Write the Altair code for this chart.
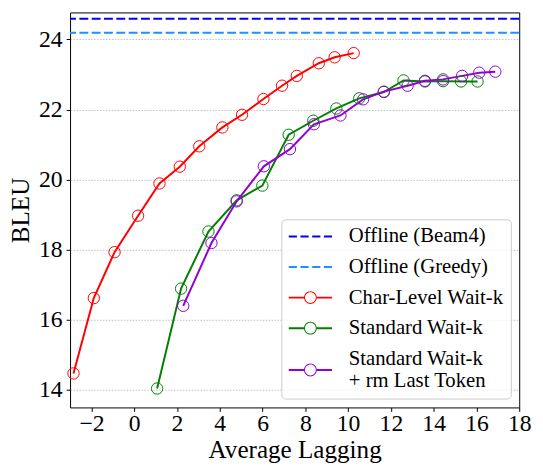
import altair as alt
import pandas as pd

# ---- data ----
series_names = [
    "Offline (Beam4)",
    "Offline (Greedy)",
    "Char-Level Wait-k",
    "Standard Wait-k",
    "Standard Wait-k + rm Last Token",
]
series_colors = ["#0000ff", "#1e90ff", "#ff0000", "#008000", "#9400d3"]

offline_bleu = [24.59, 24.19]

char_al = [-2.84, -1.89, -0.92, 0.18, 1.18, 2.13, 3.04, 4.12, 5.04, 6.04, 6.91, 7.60, 8.63, 9.37, 10.26]
char_bleu = [14.47, 16.62, 17.93, 18.97, 19.89, 20.37, 20.95, 21.49, 21.85, 22.30, 22.68, 22.96, 23.32, 23.49, 23.61]

std_al = [1.07, 2.19, 3.47, 4.79, 5.99, 7.22, 8.37, 9.45, 10.52, 11.67, 12.59, 13.59, 14.44, 15.28, 16.05]
std_bleu = [14.04, 16.89, 18.52, 19.41, 19.83, 21.28, 21.68, 22.03, 22.32, 22.50, 22.83, 22.80, 22.81, 22.80, 22.80]

rm_al = [2.29, 3.61, 4.79, 6.06, 7.28, 8.40, 9.64, 10.70, 11.67, 12.78, 13.59, 14.44, 15.33, 16.13, 16.88]
rm_bleu = [16.40, 18.19, 19.38, 20.38, 20.87, 21.58, 21.83, 22.29, 22.51, 22.68, 22.82, 22.86, 22.96, 23.05, 23.08]

x_ticks = [-2, 0, 2, 4, 6, 8, 10, 12, 14, 16, 18]
y_ticks = [14, 16, 18, 20, 22, 24]

# ---- tables ----
rows = []
for name, xs, ys in [
    (series_names[2], char_al, char_bleu),
    (series_names[3], std_al, std_bleu),
    (series_names[4], rm_al, rm_bleu),
]:
    for i, (a, b) in enumerate(zip(xs, ys)):
        rows.append({"series": name, "al": a, "bleu": b, "order": i})
curves = pd.DataFrame(rows)
offline = pd.DataFrame({"series": series_names[:2], "bleu": offline_bleu})
# one row per legend entry (placed off-plot and clipped; only feeds the legend)
legend_rows = pd.DataFrame({"series": series_names,
                            "al": [-100.0] * 5, "bleu": [0.0] * 5})

FONT = "Liberation Serif"

# legend symbols (unit coords, scaled by sqrt(size)/2 = 10 px per unit)
dash_path = ("M-1,-0.1H-0.17V0.1H-1Z M0.19,-0.1H1.02V0.1H0.19Z "
             "M1.38,-0.1H2.21V0.1H1.38Z M2.57,-0.1H3.4V0.1H2.57Z")


def ring_path(dy):
    a, b, c = dy - 0.1, dy + 0.1, dy
    return (f"M-1,{a}H0.55V{b}H-1Z M1.85,{a}H3.4V{b}H1.85Z "
            f"M1.85,{c}A0.65,0.65 0 1,1 0.55,{c}A0.65,0.65 0 1,1 1.85,{c}Z "
            f"M1.75,{c}A0.55,0.55 0 1,0 0.65,{c}A0.55,0.55 0 1,0 1.75,{c}Z")


color_scale = alt.Scale(domain=series_names, range=series_colors)
# same mapping, listed in another order so that it stays a separate (legend-less) scale
stroke_scale = alt.Scale(domain=series_names[::-1], range=series_colors[::-1])
shape_scale = alt.Scale(domain=series_names,
                        range=[dash_path, dash_path, ring_path(0), ring_path(0),
                               ring_path(1.15)])
x_scale = alt.Scale(domain=[-3, 18], nice=False, zero=False)
y_scale = alt.Scale(domain=[13.5, 24.77], nice=False, zero=False)

x_axis = alt.Axis(values=x_ticks, title="Average Lagging", grid=False, domain=False,
                  tickSize=4, labelPadding=0, titlePadding=3, labelFlush=False,
                  labelOverlap=False)
y_axis = alt.Axis(values=y_ticks, title="BLEU", grid=True, domain=False,
                  gridDash=[1.5, 1.5], gridColor="#b0b0b0", gridWidth=0.8,
                  tickSize=4, labelPadding=4, titlePadding=5, labelFlush=False,
                  labelOverlap=False)

legend = alt.Legend(
    title=None, orient="none", legendX=214.5, legendY=210,
    padding=7, fillColor="rgba(255,255,255,0.8)", strokeColor="#cccccc",
    cornerRadius=4, symbolSize=400, symbolStrokeWidth=0, labelOffset=40.5,
    labelFontSize=21, labelFont=FONT, labelColor="black", labelLimit=500,
    rowPadding=9,
    labelExpr="datum.label == 'Standard Wait-k + rm Last Token' ? "
              "['Standard Wait-k', '+ rm Last Token'] : datum.label",
)

rules = alt.Chart(offline).mark_rule(strokeDash=[9, 3.5], strokeWidth=2).encode(
    y=alt.Y("bleu:Q", scale=y_scale, axis=y_axis),
    stroke=alt.Stroke("series:N", scale=stroke_scale, legend=None),
)

lines = alt.Chart(curves).mark_line(strokeWidth=2).encode(
    x=alt.X("al:Q", scale=x_scale, axis=x_axis),
    y=alt.Y("bleu:Q", scale=y_scale, axis=y_axis),
    stroke=alt.Stroke("series:N", scale=stroke_scale, legend=None),
    order="order:Q",
)

points = alt.Chart(curves).mark_point(shape="circle", filled=False, size=133,
                                      strokeWidth=1, opacity=1).encode(
    x=alt.X("al:Q", scale=x_scale, axis=x_axis),
    y=alt.Y("bleu:Q", scale=y_scale, axis=y_axis),
    stroke=alt.Stroke("series:N", scale=stroke_scale, legend=None),
)

legend_layer = alt.Chart(legend_rows).mark_point(
    filled=True, opacity=1, strokeWidth=0, clip=True).encode(
    x=alt.X("al:Q", scale=x_scale, axis=x_axis),
    y=alt.Y("bleu:Q", scale=y_scale, axis=y_axis),
    color=alt.Color("series:N", scale=color_scale, legend=legend),
    shape=alt.Shape("series:N", scale=shape_scale, legend=legend),
)

chart = alt.layer(rules, lines, points, legend_layer).properties(
    width=456, height=401,
    autosize=alt.AutoSizeParams(type="none"),
    padding={"left": 63, "top": 1, "right": 16, "bottom": 60},
).configure(font=FONT).configure_view(stroke="black", strokeWidth=1).configure_axis(
    labelFont=FONT, titleFont=FONT, labelFontSize=24, titleFontSize=25.5,
    titleFontWeight="normal", labelColor="black", titleColor="black",
    tickColor="black", tickWidth=1,
).configure_legend(labelFont=FONT, labelFontSize=21, labelColor="black")

chart.save("out.html", embed_options={"renderer": "svg", "actions": False})
